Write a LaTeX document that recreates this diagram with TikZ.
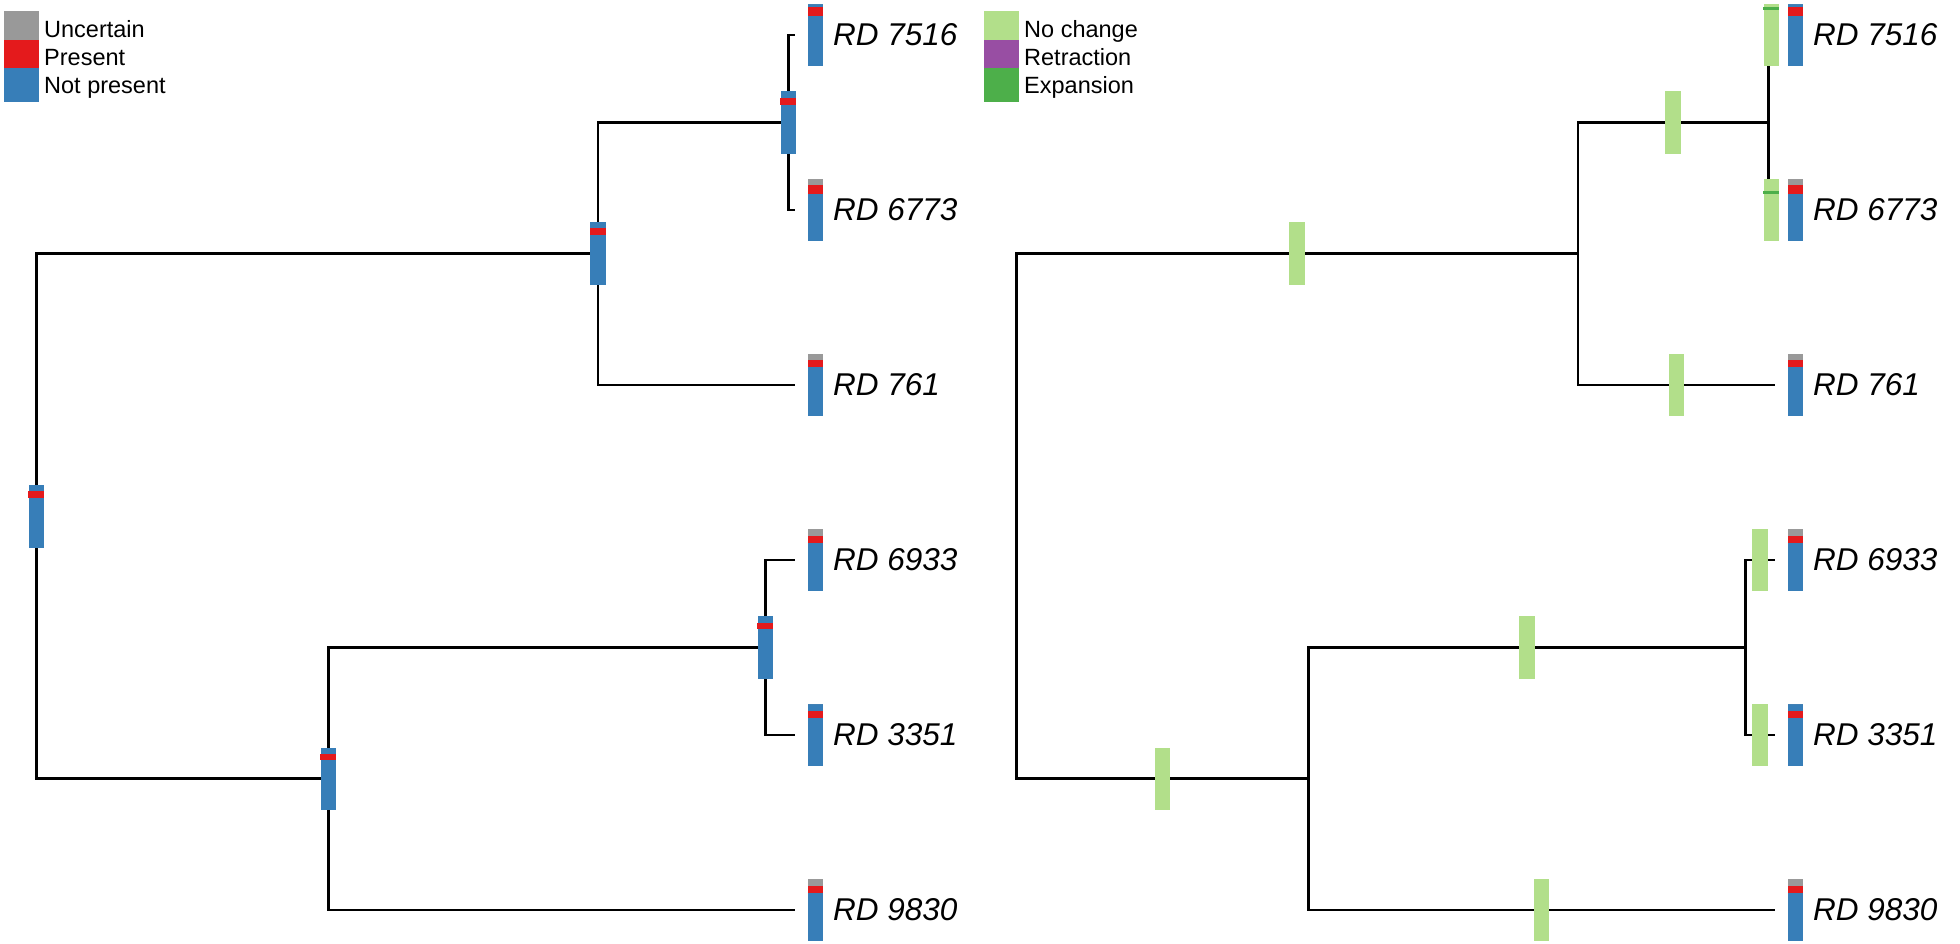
\documentclass[tikz,border=0pt]{standalone}
\usepackage{fontspec}
\setmainfont{Liberation Sans}
\usetikzlibrary{calc}
\definecolor{uncert}{HTML}{999999}
\definecolor{pres}{HTML}{E41A1C}
\definecolor{notpres}{HTML}{377EB8}
\definecolor{nochange}{HTML}{B2DF8A}
\definecolor{retract}{HTML}{984EA3}
\definecolor{expand}{HTML}{4DAF4A}

\begin{document}
\begin{tikzpicture}[x=1pt,y=-1pt,
  branch/.style={line width=2.9pt},
  statebar/.style={rectangle,inner sep=0pt,minimum width=15.5pt,minimum height=62.5pt,fill=notpres},
  chgbar/.style={rectangle,inner sep=0pt,minimum width=15.5pt,minimum height=62.5pt,fill=nochange},
  tiplab/.style={anchor=west,inner sep=0pt,font=\fontsize{31.5}{38}\selectfont\itshape},
  leglab/.style={anchor=base west,inner sep=0pt,font=\fontsize{23.5}{28}\selectfont}]
  \useasboundingbox (0,0) rectangle (1960,944);
  % legends
  \fill[uncert]  (4,11) rectangle (39,40);
  \fill[pres]    (4,40) rectangle (39,68);
  \fill[notpres] (4,68) rectangle (39,102);
  \node[leglab] (lg-unc) at (44,37.3) {Uncertain};
  \node[leglab] (lg-pre) at (44,65.7) {Present};
  \node[leglab] (lg-not) at (44,94)   {Not present};
  \fill[nochange] (984,11) rectangle (1019,40);
  \fill[retract]  (984,40) rectangle (1019,68);
  \fill[expand]   (984,68) rectangle (1019,102);
  \node[leglab] (lg-noc) at (1024,37.3) {No change};
  \node[leglab] (lg-ret) at (1024,65.7) {Retraction};
  \node[leglab] (lg-exp) at (1024,94)   {Expansion};
  % the same tree twice
  \foreach \s/\o in {L/0,R/980} {
    \coordinate (\s-root) at (36.3+\o,516.25);
    \coordinate (\s-up)   at (598+\o,253.75);
    \coordinate (\s-uu)   at (788.3+\o,122.5);
    \coordinate (\s-lo)   at (328.3+\o,778.75);
    \coordinate (\s-ll)   at (765.3+\o,647.5);
    \foreach \lab/\y in {7516/35,6773/210,761/385,6933/560,3351/735,9830/910}
      \coordinate (\s-t\lab) at (794.5+\o,\y);
    \draw[branch] (\s-root) |- (\s-up) (\s-root) |- (\s-lo)
                  (\s-up) |- (\s-uu) (\s-up) |- (\s-t761)
                  (\s-uu) |- (\s-t7516) (\s-uu) |- (\s-t6773)
                  (\s-lo) |- (\s-ll) (\s-lo) |- (\s-t9830)
                  (\s-ll) |- (\s-t6933) (\s-ll) |- (\s-t3351);
  }
  % ancestral states on the nodes
  \foreach \n/\ra/\rh in {root/6/7,up/6/7,uu/7/6.7,lo/7/6,ll/7/6} {
    \node[statebar] (L-n\n) at (L-\n) {};
    \fill[pres] ([yshift=-\ra pt]L-n\n.north west) rectangle ([yshift={-(\ra+\rh)*1pt}]L-n\n.north east);
  }
  % changes along the branches
  \foreach \p/\c in {root/up,up/uu,up/t761,uu/t7516,uu/t6773,root/lo,lo/ll,lo/t9830,ll/t6933,ll/t3351}
    \node[chgbar] (R-c\c) at ($(R-\p|-R-\c)!0.5!(R-\c)$) {};
  \fill[expand] ([yshift=-3.4pt]R-ct7516.north west) rectangle ([yshift=-6pt]R-ct7516.north east);
  \fill[expand] ([yshift=-12.7pt]R-ct6773.north west) rectangle ([yshift=-15.4pt]R-ct6773.north east);
  % tip states and labels
  \foreach \s/\o in {L/0,R/980}
    \foreach \lab/\y/\g/\ra/\rh in {7516/35/0/3.4/9,6773/210/6.7/6.7/8.7,761/385/6.3/6.3/7,6933/560/7/7/7,3351/735/0/7/7,9830/910/7.3/7.3/7} {
      \node[statebar] (\s-b\lab) at (815.5+\o,\y) {};
      \fill[uncert] (\s-b\lab.north west) rectangle ([yshift=-\g pt]\s-b\lab.north east);
      \fill[pres] ([yshift=-\ra pt]\s-b\lab.north west) rectangle ([yshift={-(\ra+\rh)*1pt}]\s-b\lab.north east);
      \node[tiplab] (\s-l\lab) at (833+\o,\y) {RD \lab};
    }
\end{tikzpicture}
\end{document}
